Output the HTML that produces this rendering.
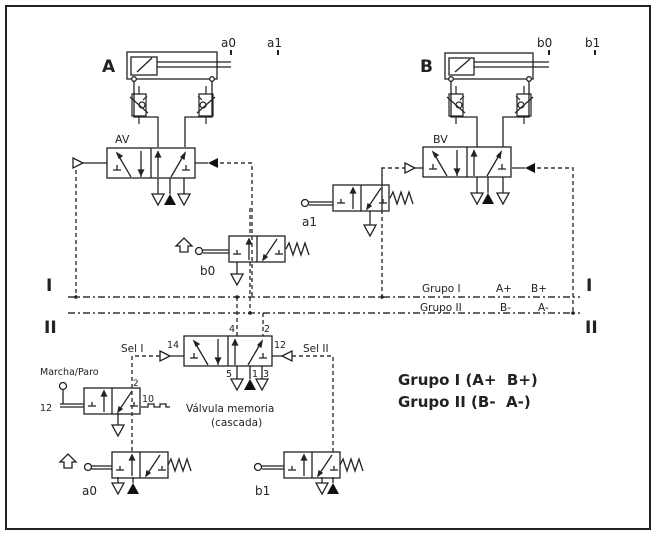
<!DOCTYPE html>
<html><head><meta charset="utf-8"><style>
html,body{margin:0;padding:0;background:#fff;}
svg{display:block;}
text{font-family:"DejaVu Sans","Liberation Sans",sans-serif;fill:#222;white-space:pre;}
</style></head><body>
<svg width="656" height="534" viewBox="0 0 656 534" xmlns="http://www.w3.org/2000/svg" xml:space="preserve">
<defs>
<g id="v32" stroke="#222" stroke-width="1.3" fill="none">
  <rect x="0" y="0" width="56" height="26"/>
  <line x1="28" y1="0" x2="28" y2="26"/>
  <path d="M4 18h8M8 18v-4"/>
  <line x1="20" y1="24" x2="20" y2="3"/><path d="M17.5 8l2.5-5 2.5 5z" fill="#222"/>
  <line x1="34" y1="24" x2="48" y2="3"/><path d="M34 24l1-5 3 2z" fill="#222"/>
  <path d="M46 18h8M50 18v-4"/>
</g>
<g id="v52" stroke="#222" stroke-width="1.3" fill="none">
  <rect x="0" y="0" width="88" height="30"/>
  <line x1="44" y1="0" x2="44" y2="30"/>
  <path d="M6 22h8M10 22v-5"/>
  <line x1="10" y1="5" x2="24" y2="29"/><path d="M10 5l5 3-3 2z" fill="#222"/>
  <line x1="34" y1="3" x2="34" y2="29"/><path d="M31.5 22l2.5 5 2.5-5z" fill="#222"/>
  <line x1="51" y1="29" x2="51" y2="3"/><path d="M48.5 9l2.5-5 2.5 5z" fill="#222"/>
  <line x1="64" y1="29" x2="78" y2="5"/><path d="M78 5l-1 6-3-2z" fill="#222"/>
  <path d="M75 22h8M79 22v-5"/>
</g>
<g id="ex"><path d="M-6 0h12l-6 11z" fill="none" stroke="#222" stroke-width="1.3"/></g>
<g id="pr"><path d="M-6 0h12l-6 11z" fill="#111" transform="rotate(180 0 5.5)"/></g>
<g id="spring" stroke="#222" stroke-width="1.3" fill="none"><path d="M0 13l3-6 4 12 4-12 4 12 4-12 4 12"/></g>
<g id="fc" stroke="#222" stroke-width="1.2" fill="none">
  <path d="M0 -7v-8M0 15v8"/><path d="M-7 -7h14v22h-14z"/>
  <path d="M-9 -4l18 16M4 -1l4 -4"/><circle cx="3" cy="4" r="3"/>
</g>
</defs>

<rect x="6" y="6" width="644" height="523" fill="none" stroke="#222" stroke-width="2"/>

<g stroke="#222" stroke-width="1.3" fill="none">
<rect x="127" y="52" width="90" height="27"/>
<rect x="131" y="57" width="26" height="18"/>
<line x1="137" y1="72" x2="152" y2="58"/>
<line x1="157" y1="62" x2="231" y2="62"/><line x1="157" y1="67" x2="231" y2="67"/>
<circle cx="134" cy="79" r="2.3" fill="#fff"/><circle cx="212" cy="79" r="2.3" fill="#fff"/>
<rect x="445" y="53" width="88" height="26"/>
<rect x="449" y="58" width="25" height="17"/>
<line x1="455" y1="72" x2="470" y2="59"/>
<line x1="474" y1="62" x2="549" y2="62"/><line x1="474" y1="67" x2="549" y2="67"/>
<circle cx="451" cy="79" r="2.3" fill="#fff"/><circle cx="529" cy="79" r="2.3" fill="#fff"/>
<path d="M134 81v36h24v30M212 81v36h-27v30"/>
<path d="M451 81v36h26v30M529 81v36h-26v30"/>
</g>
<use href="#fc" x="139" y="101"/><use href="#fc" x="-206" y="101" transform="scale(-1 1)"/>
<use href="#fc" x="456" y="101"/><use href="#fc" x="-524" y="101" transform="scale(-1 1)"/>

<use href="#v52" x="107" y="148"/>
<use href="#v52" x="423" y="147"/>
<use href="#v52" x="184" y="336"/>
<g stroke="#222" stroke-width="1.3" fill="none">
<path d="M158 178v16M170 178v16M184 178v16"/>
<path d="M477 177v16M488 177v16M503 177v16"/>
<path d="M237 366v13M250 366v13M262 366v13"/>
<path d="M83 163h24M195 163h13"/>
<path d="M415 168h8M512 168h13"/>
<path d="M170 356h14M272 356h10"/>
</g>
<path d="M73 158l10 5-10 5z" fill="#fff" stroke="#222" stroke-width="1.3"/>
<path d="M218 158l-10 5 10 5z" fill="#111"/>
<path d="M405 163l10 5-10 5z" fill="#fff" stroke="#222" stroke-width="1.3"/>
<path d="M535 163l-10 5 10 5z" fill="#111"/>
<path d="M160 351l10 5-10 5z" fill="#fff" stroke="#222" stroke-width="1.3"/>
<path d="M292 351l-10 5 10 5z" fill="#fff" stroke="#222" stroke-width="1.3"/>

<use href="#ex" x="158" y="194"/><use href="#pr" x="170" y="194"/><use href="#ex" x="184" y="194"/>
<use href="#ex" x="477" y="193"/><use href="#pr" x="488" y="193"/><use href="#ex" x="503" y="193"/>
<use href="#ex" x="237" y="379"/><use href="#pr" x="250" y="379"/><use href="#ex" x="262" y="379"/>

<use href="#v32" x="333" y="185"/>
<use href="#spring" x="390" y="185"/>
<use href="#v32" x="229" y="236"/>
<use href="#spring" x="286" y="236"/>
<use href="#v32" x="84" y="388"/>
<use href="#v32" x="112" y="452"/>
<use href="#spring" x="168" y="452"/>
<use href="#v32" x="284" y="452"/>
<use href="#spring" x="340" y="452"/>

<g stroke="#222" stroke-width="1.3" fill="none">
<path d="M309 202h24M309 205h24"/><circle cx="305" cy="203" r="3.5"/>
<path d="M203 250h26M203 253h26"/><circle cx="199" cy="251" r="3.5"/>
<path d="M180 252v-6h-4l8-8 8 8h-4v6z"/>
<path d="M91 466h21M91 469h21"/><circle cx="88" cy="467" r="3.5"/>
<path d="M64 468v-6h-4l8-8 8 8h-4v6z"/>
<path d="M262 466h22M262 469h22"/><circle cx="258" cy="467" r="3.5"/>
<circle cx="63" cy="386" r="3.5"/><path d="M63 390v14M60 404h24M60 407h24"/>
<path d="M141 407h7v-3h6v3h6v-3h6v3h4"/>
<path d="M370 211v14M237 262v12M118 413v12M118 477v6M133 477v6M322 477v6M333 477v6"/>
</g>
<use href="#ex" x="370" y="225"/><use href="#ex" x="237" y="274"/><use href="#ex" x="118" y="425"/>
<use href="#ex" x="118" y="483"/><use href="#pr" x="133" y="483"/>
<use href="#ex" x="322" y="483"/><use href="#pr" x="333" y="483"/>

<g stroke="#333" stroke-width="1.4" fill="none" stroke-dasharray="4 3">
<path d="M76 170v127"/>
<path d="M220 163h32v134"/>
<path d="M382 211v-43h23"/>
<path d="M382 168v129"/>
<path d="M537 168h36v145"/>
<path d="M250 208v28M250 262v51"/>
<path d="M237 297v39M263 313v23"/>
<path d="M292 356h41v96"/>
<path d="M160 356h-28v96"/>
</g>
<g stroke="#333" stroke-width="1.4" fill="none" stroke-dasharray="7 3 2 3">
<path d="M68 297h512"/>
<path d="M68 313h512"/>
</g>
<g fill="#222">
<circle cx="76" cy="297" r="1.8"/><circle cx="382" cy="297" r="1.8"/><circle cx="237" cy="297" r="1.8"/>
<circle cx="250" cy="313" r="1.8"/><circle cx="573" cy="313" r="1.8"/>
<rect x="230" y="50" width="2" height="5"/><rect x="277" y="50" width="2" height="5"/>
<rect x="548" y="50" width="2" height="5"/><rect x="594" y="50" width="2" height="5"/>
</g>

<text x="102" y="72" font-size="17" font-weight="bold">A</text>
<text x="420" y="72" font-size="17" font-weight="bold">B</text>
<text x="221" y="47" font-size="12">a0</text>
<text x="267" y="47" font-size="12">a1</text>
<text x="537" y="47" font-size="12">b0</text>
<text x="585" y="47" font-size="12">b1</text>
<text x="115" y="143" font-size="11">AV</text>
<text x="433" y="143" font-size="11">BV</text>
<text x="302" y="226" font-size="12">a1</text>
<text x="200" y="275" font-size="12">b0</text>
<text x="82" y="495" font-size="12">a0</text>
<text x="255" y="495" font-size="12">b1</text>
<text x="46" y="291" font-size="17" font-weight="bold">I</text>
<text x="586" y="291" font-size="17" font-weight="bold">I</text>
<text x="44" y="333" font-size="17" font-weight="bold">II</text>
<text x="585" y="333" font-size="17" font-weight="bold">II</text>
<text x="422" y="292" font-size="10.5">Grupo I</text>
<text x="496" y="292" font-size="10.5">A+</text>
<text x="531" y="292" font-size="10.5">B+</text>
<text x="420" y="311" font-size="10.5">Grupo II</text>
<text x="500" y="311" font-size="10.5">B-</text>
<text x="538" y="311" font-size="10.5">A-</text>
<text x="121" y="352" font-size="10.5">Sel I</text>
<text x="167" y="348" font-size="9.5">14</text>
<text x="274" y="348" font-size="9.5">12</text>
<text x="303" y="352" font-size="10.5">Sel II</text>
<text x="229" y="332" font-size="9.5">4</text>
<text x="264" y="332" font-size="9.5">2</text>
<text x="226" y="377" font-size="9.5">5</text>
<text x="252" y="377" font-size="9.5">1</text>
<text x="263" y="377" font-size="9.5">3</text>
<text x="186" y="412" font-size="10.5">Válvula memoria</text>
<text x="211" y="426" font-size="10.5">(cascada)</text>
<text x="40" y="375" font-size="9.5">Marcha/Paro</text>
<text x="40" y="411" font-size="9.5">12</text>
<text x="133" y="386" font-size="9">2</text>
<text x="142" y="402" font-size="9.5">10</text>
<text x="398" y="385" font-size="15" font-weight="bold">Grupo I (A+  B+)</text>
<text x="398" y="407" font-size="15" font-weight="bold">Grupo II (B-  A-)</text>
</svg>
</body></html>
